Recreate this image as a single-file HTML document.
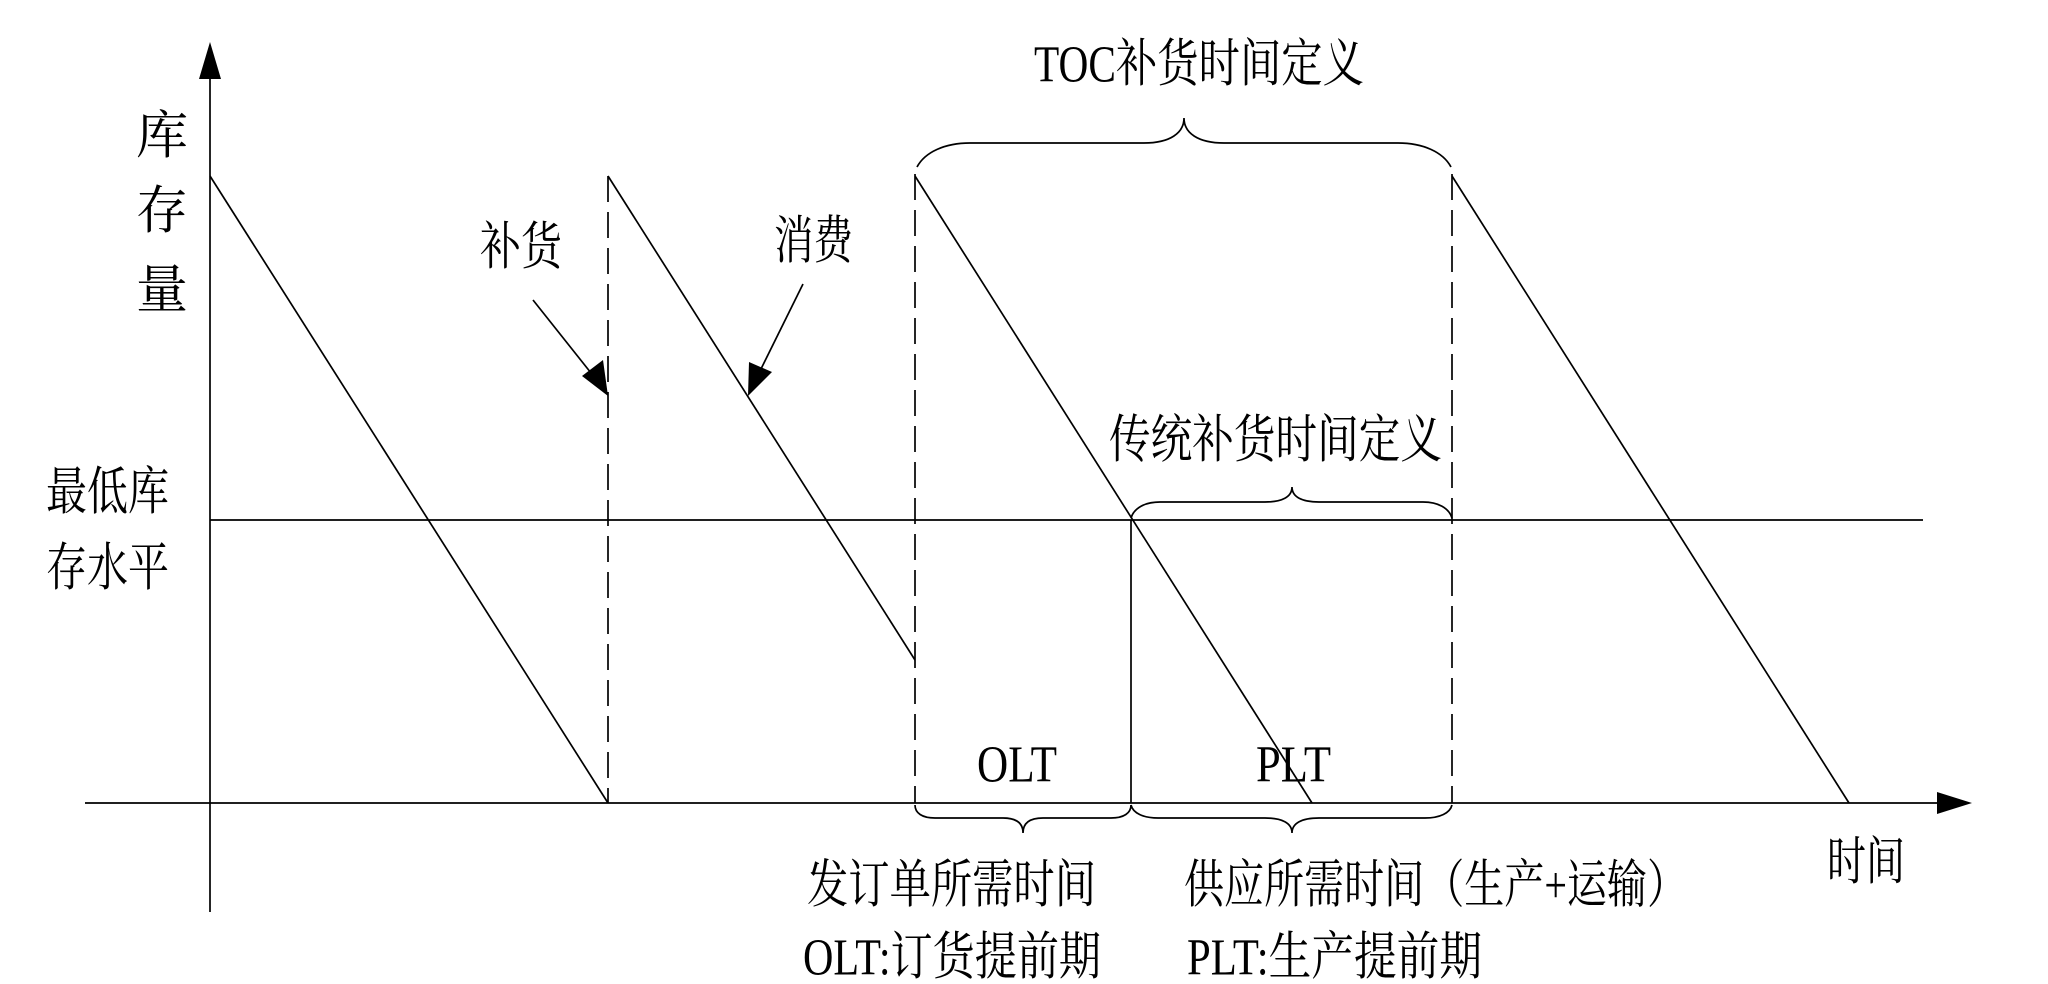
<!DOCTYPE html>
<html><head><meta charset="utf-8"><style>
html,body{margin:0;padding:0;background:#fff}
svg{display:block}
text{font-family:"Liberation Serif","Noto Serif CJK SC","Noto Sans CJK SC",serif;font-size:52px;fill:#000}
</style></head><body>
<svg width="2048" height="984" viewBox="0 0 2048 984" xmlns="http://www.w3.org/2000/svg">
<g stroke="#000" stroke-width="1.7" fill="none">
<line x1="210" y1="72" x2="210" y2="912"/>
<line x1="85" y1="803" x2="1945" y2="803"/>
<line x1="210" y1="520" x2="1923" y2="520"/>
<line x1="210" y1="176" x2="608" y2="803"/>
<line x1="608" y1="176" x2="915" y2="660"/>
<line x1="915" y1="176" x2="1312" y2="803"/>
<line x1="1452" y1="176" x2="1849" y2="803"/>
<line x1="1131" y1="520" x2="1131" y2="803"/>
<g stroke-dasharray="26,10">
<line x1="608" y1="176" x2="608" y2="803"/>
<line x1="915" y1="174" x2="915" y2="803"/>
<line x1="1452" y1="174" x2="1452" y2="803"/>
</g>
<path d="M917 167 C925 152 945 143 970 143 L1144 143 C1170 143 1184 133 1184 118 C1184 133 1198 143 1224 143 L1398 143 C1423 143 1443 152 1451 167"/>
<path d="M1131 518 C1134 508 1145 502 1160 502 L1265 502 C1282 502 1292 497 1292 487 C1292 497 1302 502 1319 502 L1423 502 C1438 502 1449 508 1452 518"/>
<path d="M915 805 C915 813 922 818 935 818 L1003 818 C1016 818 1023 823 1023 833 C1023 823 1030 818 1043 818 L1111 818 C1124 818 1131 813 1131 805"/>
<path d="M1131 805 C1133 813 1143 818 1158 818 L1265 818 C1282 818 1292 823 1292 833 C1292 823 1302 818 1319 818 L1425 818 C1440 818 1450 813 1452 805"/>
<line x1="533" y1="300" x2="595" y2="378"/>
<line x1="803" y1="284" x2="758" y2="375"/>
</g>
<g fill="#000">
<polygon points="210,42 199,79 221,79"/>
<polygon points="1972,803 1937,792 1937,814"/>
<polygon points="608,396 582,376 603,360"/>
<polygon points="748,396 749,362 772,372"/>
</g>
<g dominant-baseline="central">
<text x="162" y="137" text-anchor="middle">库</text>
<text x="162" y="212" text-anchor="middle">存</text>
<text x="162" y="291" text-anchor="middle">量</text>
<text x="46" y="493" textLength="123" lengthAdjust="spacingAndGlyphs">最低库</text>
<text x="46" y="569" textLength="123" lengthAdjust="spacingAndGlyphs">存水平</text>
<text x="480" y="248" textLength="82" lengthAdjust="spacingAndGlyphs">补货</text>
<text x="774" y="242" textLength="79" lengthAdjust="spacingAndGlyphs">消费</text>
<text x="1034" y="65" textLength="330" lengthAdjust="spacingAndGlyphs">TOC补货时间定义</text>
<text x="1109" y="441" textLength="333" lengthAdjust="spacingAndGlyphs">传统补货时间定义</text>
<text x="977" y="765" textLength="80" lengthAdjust="spacingAndGlyphs">OLT</text>
<text x="1256" y="765" textLength="75" lengthAdjust="spacingAndGlyphs">PLT</text>
<text x="807" y="886" textLength="289" lengthAdjust="spacingAndGlyphs">发订单所需时间</text>
<text x="803" y="958" textLength="298" lengthAdjust="spacingAndGlyphs">OLT:订货提前期</text>
<text x="1184" y="886" textLength="503" lengthAdjust="spacingAndGlyphs">供应所需时间（生产+运输）</text>
<text x="1187" y="958" textLength="295" lengthAdjust="spacingAndGlyphs">PLT:生产提前期</text>
<text x="1827" y="863" textLength="78" lengthAdjust="spacingAndGlyphs">时间</text>
</g>
</svg>
</body></html>
